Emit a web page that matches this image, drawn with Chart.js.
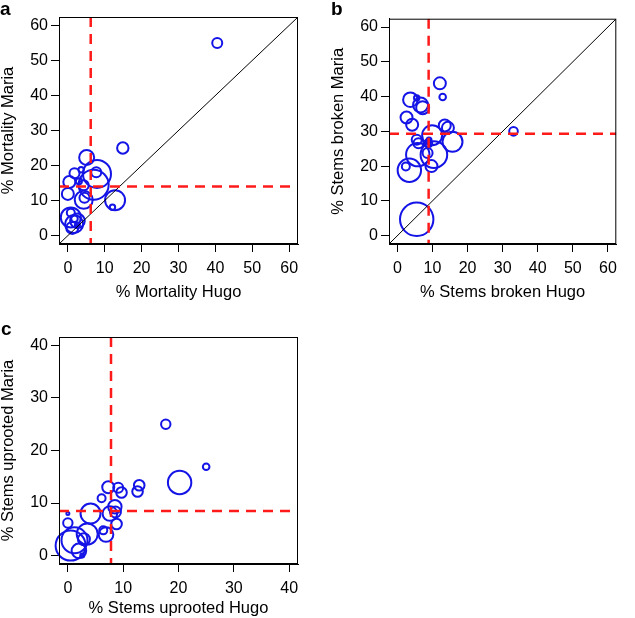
<!DOCTYPE html>
<html>
<head>
<meta charset="utf-8">
<script src="https://cdn.jsdelivr.net/npm/chart.js@4"></script>
<style>
  body { margin: 0; background: #fff; }
  #wrap { position: relative; width: 635px; height: 618px; overflow: hidden; }
  canvas { position: absolute; }
  .lab { position: absolute; font: bold 19px "Liberation Sans", Arial, sans-serif; color: #000; }
</style>
</head>
<body>
<div id="wrap">
  <canvas id="panelA" width="315" height="310" style="left:0;top:0"></canvas>
  <canvas id="panelB" width="305" height="310" style="left:330px;top:0"></canvas>
  <canvas id="panelC" width="315" height="310" style="left:0;top:320px"></canvas>
  <div class="lab" style="left:0;top:-2px">a</div>
  <div class="lab" style="left:331px;top:-2px">b</div>
  <div class="lab" style="left:1px;top:318px">c</div>
</div>
<script>
// ================[Panel a : mortality]================
const hugoA  = [40.5, 14.9, 5.1, 7.9, 7.7, 7.0, 1.8, 3.6, 0.4, 0.0, 4.3, 4.5, 4.3, 12.8, 12.1, 0.8, 1.7, 2.6, 1.2, 1.8, 0.8, 2.6, 3.0];
const mariaA = [55.0, 25.0, 22.3, 17.6, 18.1, 14.5, 17.8, 18.8, 15.3, 11.9, 10.2, 10.8, 14.4, 10.1, 8.1, 5.2, 3.3, 4.2, 2.2, 4.8, 6.5, 3.0, 15.5];
const sizeA  = [5, 5.7, 7.5, 14, 5, 15, 5, 2.7, 6, 6, 9, 5, 5, 10, 2.7, 10, 9, 7.3, 6, 3.3, 4, 2.5, 3];
const ticksA = [0, 10, 20, 30, 40, 50, 60];
const medianA = [6.2, 14.0];   // Hugo, Maria

// ================[Panel b : stems broken]================
const hugoB  = [12.1, 12.9, 3.7, 5.5, 6.6, 7.2, 2.6, 4.2, 13.5, 14.4, 9.9, 15.7, 5.5, 6.0, 8.6, 9.0, 5.5, 3.4, 2.4, 5.8, 10.4, 8.6, 8.8, 9.7, 33.1];
const mariaB = [43.8, 39.9, 39.1, 39.6, 37.6, 36.8, 34.0, 31.9, 31.7, 31.0, 28.9, 27.0, 27.6, 26.6, 26.6, 27.5, 4.7, 18.8, 19.9, 23.3, 23.3, 23.8, 26.5, 20.0, 30.0];
const sizeB  = [6, 3.3, 7.3, 2.7, 7.5, 6.5, 6, 6, 6, 6, 10, 10, 5, 5, 3.3, 2.5, 16.7, 11.7, 4, 11.7, 13.3, 5, 4, 6, 4.3];
const ticksB = [0, 10, 20, 30, 40, 50, 60];
const medianB = [8.9, 29.3];

// ================[Panel c : stems uprooted]================
const hugoC  = [17.7, 25.0, 20.2, 12.9, 12.6, 7.3, 9.1, 9.7, 6.1, 4.1, 0.0, 0.0, 8.5, 7.6, 8.6, 8.8, 6.4, 6.9, 3.5, 2.9, 0.5, 1.2, 2.0, 2.6];
const mariaC = [25.0, 16.9, 13.9, 13.4, 12.2, 13.0, 12.9, 12.0, 10.9, 8.0, 8.0, 6.2, 9.3, 8.0, 8.3, 6.0, 4.8, 4.0, 4.1, 3.1, 1.9, 2.9, 0.9, 0.0];
const sizeC  = [4.7, 3.3, 11.7, 5.3, 5.3, 6, 5, 5.3, 4, 10, 1.5, 4.7, 6.7, 7.3, 5.5, 5.3, 4, 7.3, 10.5, 6, 15, 13, 7.3, 2];
const ticksC = [0, 10, 20, 30, 40];
const medianC = [7.8, 8.5];

// =================[Lines : diagonal, medians, box]==============
const overlay = {
  id: 'overlay',
  afterDatasetsDraw(chart, args, opts) {
    const {ctx, chartArea: a, scales: {x, y}} = chart;
    ctx.save();
    ctx.beginPath();
    ctx.rect(a.left, a.top, a.width, a.height);
    ctx.clip();
    // 1:1 line (panels a and b only)
    if (opts.diag) {
      ctx.strokeStyle = '#000';
      ctx.lineWidth = 1;
      ctx.beginPath();
      ctx.moveTo(x.getPixelForValue(x.min), y.getPixelForValue(x.min));
      ctx.lineTo(x.getPixelForValue(x.max), y.getPixelForValue(x.max));
      ctx.stroke();
    }
    // medians
    ctx.strokeStyle = '#ff1a1a';
    ctx.lineWidth = 2.5;
    ctx.setLineDash([10, 7]);
    const px = x.getPixelForValue(opts.med[0]);
    const py = y.getPixelForValue(opts.med[1]);
    ctx.beginPath();
    ctx.moveTo(px, a.top); ctx.lineTo(px, a.bottom);
    ctx.moveTo(a.left, py); ctx.lineTo(a.right, py);
    ctx.stroke();
    ctx.restore();
    // box
    ctx.save();
    ctx.strokeStyle = '#000';
    ctx.lineWidth = 1;
    ctx.strokeRect(a.left + 0.5, a.top + 0.5, a.width - 1, a.height - 1);
    ctx.restore();
  }
};

function axis(title, lo, hi, ticks, horizontal, titlePad) {
  return {
    type: 'linear',
    min: lo,
    max: hi,
    afterBuildTicks: s => { s.ticks = ticks.map(v => ({value: v})); },
    afterFit: s => { if (horizontal) s.height = 66; else s.width = 59; },
    grid: { drawOnChartArea: false, drawTicks: true, tickLength: 8, color: '#000' },
    border: { display: true, color: '#000' },
    ticks: {
      color: '#000',
      padding: horizontal ? 7 : 3,
      maxRotation: 0,
      font: { family: '"Liberation Sans", Arial, sans-serif', size: 16 }
    },
    title: {
      display: true,
      text: title,
      color: '#000',
      padding: horizontal ? { top: 0, bottom: titlePad } : { top: 0, bottom: 0 },
      font: { family: '"Liberation Sans", Arial, sans-serif', size: 16.5, lineHeight: 1 }
    }
  };
}

function panel(id, xs, ys, rs, xTitle, yTitle, lo, hi, ticks, med, padRight, diag, titlePad) {
  const pts = xs.map((v, i) => ({ x: v, y: ys[i], r: rs[i] }));
  return new Chart(document.getElementById(id), {
    type: 'bubble',
    data: {
      datasets: [{
        data: pts,
        backgroundColor: 'rgba(0,0,0,0)',
        borderColor: 'rgb(20,20,230)',
        borderWidth: 2,
        clip: false
      }]
    },
    options: {
      responsive: false,
      animation: false,
      events: [],
      devicePixelRatio: 1,
      layout: { padding: { top: 11, right: padRight, left: 0, bottom: 0 } },
      scales: {
        x: axis(xTitle, lo, hi, ticks, true, titlePad),
        y: axis(yTitle, lo, hi, ticks, false, 0)
      },
      plugins: {
        legend: { display: false },
        tooltip: { enabled: false },
        overlay: { med: med, diag: diag }
      }
    },
    plugins: [overlay]
  });
}

panel('panelA', hugoA, mariaA, sizeA, '% Mortality Hugo', '% Mortality Maria', -2.4, 62.4, ticksA, medianA, 12, true, 9);
panel('panelB', hugoB, mariaB, sizeB, '% Stems broken Hugo', '% Stems broken Maria', -2.4, 62.4, ticksB, medianB, 2, true, 9);
panel('panelC', hugoC, mariaC, sizeC, '% Stems uprooted Hugo', '% Stems uprooted Maria', -1.6, 41.6, ticksC, medianC, 12, false, 13);
</script>
</body>
</html>
